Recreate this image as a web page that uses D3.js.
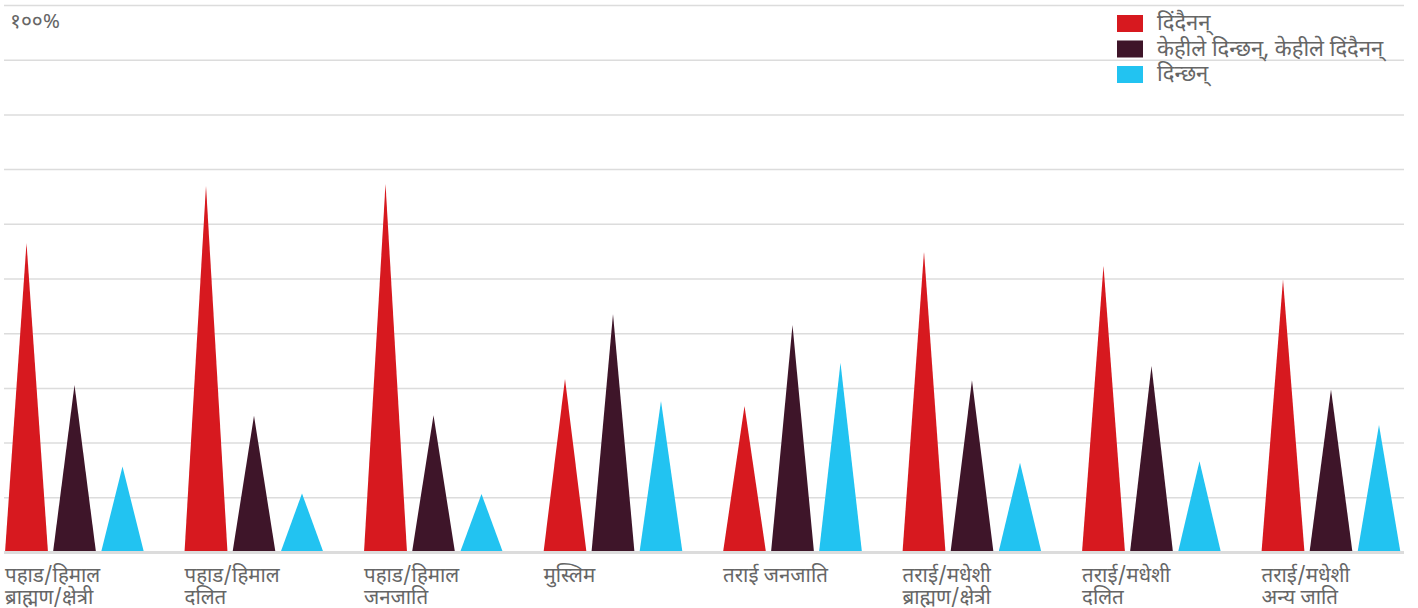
<!DOCTYPE html>
<html>
<head>
<meta charset="utf-8">
<script src="https://cdn.jsdelivr.net/npm/d3@7"></script>
<style>
  html, body { margin: 0; padding: 0; background: #fff; }
  svg text { font-family: "Noto Sans Devanagari", "Lohit Devanagari", "Mukta", "Noto Sans", "DejaVu Sans", sans-serif; fill: #666; }
</style>
</head>
<body>
<svg id="chart" width="1418" height="608"></svg>
<script>
const categories = [
  ["पहाड/हिमाल", "ब्राह्मण/क्षेत्री"],
  ["पहाड/हिमाल", "दलित"],
  ["पहाड/हिमाल", "जनजाति"],
  ["मुस्लिम"],
  ["तराई जनजाति"],
  ["तराई/मधेशी", "ब्राह्मण/क्षेत्री"],
  ["तराई/मधेशी", "दलित"],
  ["तराई/मधेशी", "अन्य जाति"]
];
const seriesNames = ["दिंदैनन्", "केहीले दिन्छन्, केहीले दिंदैनन्", "दिन्छन्"];
const seriesColors = ["#d7191f", "#3e1529", "#22c3f1"];
const neverGive = [56.6, 67.1, 67.4, 31.7, 26.8, 55.0, 52.4, 49.9];
const someGive = [30.6, 25.0, 25.1, 43.6, 41.6, 31.5, 34.1, 29.8];
const give = [15.7, 10.8, 10.7, 27.7, 34.7, 16.4, 16.7, 23.3];
const yTicks = [0, 10, 20, 30, 40, 50, 60, 70, 80, 90, 100];
const topLabel = "१००%";

const series = [neverGive, someGive, give];
const svg = d3.select("#chart");

const y = d3.scaleLinear().domain([0, 100]).range([552.5, 5.5]);
const x0 = d3.scaleBand().domain(d3.range(categories.length)).range([5, 1400.5]).paddingInner(0.2256).paddingOuter(0);
const x1 = d3.scaleBand().domain(d3.range(series.length)).range([0, x0.bandwidth()]).paddingInner(0.104).paddingOuter(0);

// gridlines
svg.append("g").selectAll("line").data(yTicks.filter(d => d > 0)).join("line")
  .attr("x1", 4).attr("x2", 1404)
  .attr("y1", d => y(d)).attr("y2", d => y(d))
  .attr("stroke", "#dcdcdc").attr("stroke-width", 1.5);

// triangles
const groups = svg.append("g").selectAll("g").data(categories).join("g")
  .attr("transform", (d, i) => `translate(${x0(i)},0)`);

groups.each(function(cat, gi) {
  d3.select(this).selectAll("path").data(series.map((s, si) => ({si, v: s[gi]}))).join("path")
    .attr("fill", d => seriesColors[d.si])
    .attr("d", d => {
      const l = x1(d.si), r = l + x1.bandwidth(), m = (l + r) / 2;
      return `M${l},${y(0)}L${m},${y(d.v)}L${r},${y(0)}Z`;
    });
});

// baseline
svg.append("line").attr("x1", 4).attr("x2", 1404).attr("y1", y(0)).attr("y2", y(0))
  .attr("stroke", "#dcdcdc").attr("stroke-width", 3);

// category labels
groups.append("text")
  .attr("y", 582)
  .attr("font-size", 20.5)
  .selectAll("tspan").data(d => d).join("tspan")
  .attr("x", 0).attr("dy", (d, i) => i === 0 ? 0 : 22)
  .text(d => d);

// top label
svg.append("text").attr("x", 10).attr("y", 28).attr("font-size", 21).text(topLabel);

// legend
const legend = svg.append("g").selectAll("g").data(seriesNames).join("g")
  .attr("transform", (d, i) => `translate(1117,${15 + i * 25.5})`);
legend.append("rect").attr("width", 26).attr("height", 17).attr("fill", (d, i) => seriesColors[i]);
legend.append("text").attr("x", 40).attr("y", 15).attr("font-size", 22).text(d => d);
</script>
</body>
</html>
